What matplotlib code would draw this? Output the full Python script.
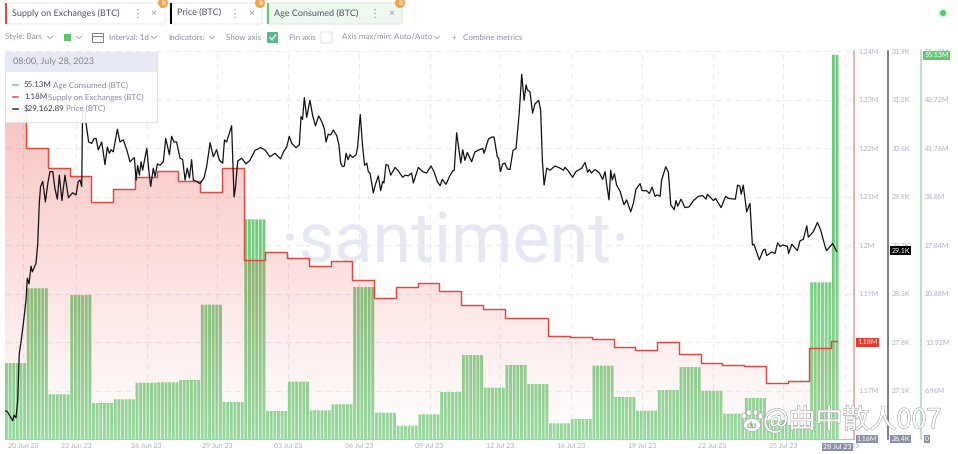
import numpy as np
import matplotlib
matplotlib.use("Agg")
import matplotlib.pyplot as plt
import matplotlib.patheffects as pe
import matplotlib.font_manager as fm
from matplotlib.patches import Rectangle, Circle, FancyBboxPatch, Ellipse
from matplotlib.colors import LinearSegmentedColormap

# ---------- data ----------
supply_m = [1.2278,1.2201,1.2159,1.2142,1.2089,1.2115,1.2140,1.2153,1.2131,1.2109,1.2159,1.1970,1.1986,
            1.1973,1.1957,1.1966,1.1928,1.1890,1.1913,1.1922,1.1905,1.1876,1.1868,1.1849,1.1849,1.1812,
            1.1810,1.1806,1.1789,1.1783,1.1801,1.1775,1.1756,1.1753,1.1751,1.1716,1.1719,1.1788,1.1802]
age_m = [10.91,21.63,6.42,20.67,5.17,5.70,8.08,8.14,8.47,19.27,5.31,31.53,4.02,8.22,4.12,4.98,21.81,3.77,
         1.91,3.54,6.74,12.05,7.36,10.62,7.89,2.25,2.87,10.52,6.03,4.06,7.03,10.33,6.93,3.63,5.88,2.73,2.01,22.49,55.13]
price_t = [.04,.14,.27,.39,.45,.54,.62,.69,.76,.88,1.00,1.06,1.14,1.23,1.29,1.46,1.54,1.61,1.67,1.77,1.89,2.00,2.10,2.23,2.33,2.44,2.53,2.65,2.79,2.95,3.14,3.30,3.40,3.48,3.56,3.60,3.67,3.76,
 3.88,4.02,4.13,4.22,4.32,4.48,4.63,4.74,4.83,4.91,5.01,5.20,5.32,5.47,5.63,5.78,5.98,6.06,6.13,6.21,6.29,6.36,6.55,6.65,6.73,6.85,6.93,7.04,7.16,7.31,7.42,7.59,7.69,7.80,7.92,8.08,8.20,8.31,8.41,8.51,8.61,8.69,8.84,8.99,9.18,9.30,9.46,9.61,9.76,9.89,10.04,10.12,10.22,10.30,10.45,10.56,10.62,10.73,10.91,11.11,11.29,11.52,11.78,11.98,12.21,
 12.44,12.70,12.83,12.98,13.10,13.21,13.41,13.56,13.64,13.71,13.79,13.90,14.05,14.17,14.30,14.45,14.59,14.71,14.79,14.89,15.00,15.12,15.28,15.38,15.46,15.55,15.63,15.71,15.80,15.89,16.01,16.17,16.24,16.36,16.47,16.56,16.66,16.73,16.81,16.96,17.05,17.19,17.30,17.39,17.45,17.54,17.64,17.76,17.96,18.11,18.31,18.42,18.57,18.72,18.80,19.03,19.23,19.41,19.61,19.75,19.90,20.03,20.13,20.30,20.46,20.61,20.68,20.79,20.98,21.07,21.17,21.28,21.48,21.63,21.83,21.99,22.05,22.25,22.40,22.51,22.66,22.72,22.80,22.91,23.01,23.12,23.24,23.38,23.52,23.67,23.78,23.89,23.98,24.04,24.16,24.28,24.39,24.56,24.65,24.73,24.81,24.93,25.08,25.31,25.54,
 25.69,25.77,25.92,26.12,26.27,26.54,26.69,26.81,26.89,26.98,27.15,27.35,27.50,27.61,27.68,27.79,27.87,27.94,28.04,28.14,28.30,28.48,28.60,28.79,28.91,29.03,29.22,29.31,29.52,29.65,29.77,29.91,30.01,30.14,30.21,30.40,30.52,30.63,30.79,30.87,30.95,31.10,31.28,31.47,31.67,31.90,32.10,32.25,32.31,32.59,32.69,32.94,33.15,33.28,33.60,33.70,33.81,33.87,33.96,34.12,34.27,34.38,34.45,34.70,34.88,34.96,35.04,35.27,35.42,35.54,35.65,35.77,35.99,36.05,36.19,36.45,36.57,36.72,36.88,36.95,37.18,37.37,37.52,37.72,37.79,38.07,38.25]
price_k = [26.80,26.79,26.72,26.66,26.74,26.70,26.95,27.61,27.75,28.04,28.37,28.68,28.60,28.85,28.77,28.89,29.17,29.74,29.98,30.05,29.76,30.02,30.19,30.19,29.95,29.80,30.14,29.78,30.14,29.82,29.89,29.86,30.05,30.07,29.98,31.06,31.10,30.87,
 30.61,30.59,30.66,30.66,30.50,30.61,30.29,30.54,30.45,30.50,30.47,30.79,30.61,30.64,30.50,30.33,30.39,30.07,30.28,30.14,30.33,30.21,30.52,30.19,29.98,30.24,30.12,30.30,30.28,30.33,30.66,30.43,30.69,30.61,30.61,30.38,30.36,30.07,30.24,30.10,30.36,30.07,30.05,30.02,30.10,30.26,30.60,30.40,30.50,30.35,30.31,30.64,30.61,30.69,30.84,29.83,29.95,30.34,30.38,30.30,30.35,30.49,30.53,30.50,30.40,
 30.45,30.37,30.47,30.54,30.69,30.59,30.53,30.57,30.97,30.93,31.24,30.96,31.20,30.99,30.84,30.98,30.90,30.80,30.61,30.72,30.71,30.78,30.70,30.57,30.31,30.26,30.27,30.45,30.36,30.43,30.39,30.43,30.54,31.00,30.54,30.28,30.31,30.19,30.17,29.89,30.00,30.13,29.92,30.05,30.03,30.29,30.28,30.14,30.25,30.20,30.11,30.14,30.13,30.17,30.03,30.25,30.19,30.17,30.27,30.19,30.05,29.99,30.08,30.01,30.12,30.20,30.21,30.74,30.31,30.50,30.35,30.46,30.33,30.47,30.50,30.52,30.45,30.65,30.68,30.68,30.40,30.38,30.19,30.30,30.31,30.23,30.22,30.49,30.52,31.04,31.57,31.20,31.42,31.35,31.32,31.02,31.15,31.20,31.06,30.35,30.00,30.24,30.21,30.27,30.24,
 30.21,30.25,30.20,30.11,30.19,30.24,30.32,30.18,30.22,30.17,30.22,30.17,30.08,30.19,30.02,29.79,30.21,30.07,30.16,30.00,29.91,29.72,29.79,29.62,29.74,29.94,30.02,29.92,29.92,29.88,29.97,29.84,29.86,29.84,30.07,30.26,30.18,29.72,29.65,29.78,29.70,29.80,29.68,29.69,29.78,29.84,29.85,29.80,29.87,29.78,29.81,29.68,29.84,29.81,29.80,30.00,29.98,29.87,30.00,29.62,29.74,29.15,29.16,28.94,29.08,29.09,29.00,29.05,29.03,29.18,29.13,29.15,29.13,29.03,29.16,29.07,29.21,29.23,29.42,29.26,29.34,29.47,29.36,29.13,29.07,29.17,29.06]
date_labels = ["20 Jun 23","23 Jun 23","26 Jun 23","29 Jun 23","03 Jul 23","06 Jul 23","09 Jul 23","12 Jul 23",
               "16 Jul 23","19 Jul 23","22 Jul 23","25 Jul 23","28 Jul 23"]
# the lowest ticks and the 1.18M tick sit under value tags, which repeat their text
supply_ticks = ["","1.17M","","1.19M","1.2M","1.21M","1.22M","1.23M","1.24M"]
price_ticks = ["","27.1K","27.8K","28.5K","29.2K","29.9K","30.6K","31.2K","31.9K"]
age_ticks = ["","6.96M","13.92M","20.88M","27.84M","34.8M","41.76M","48.72M","55.68M"]

FONT = "Lato"
plt.rcParams["font.family"] = FONT
plt.rcParams["text.hinting"] = "none"
plt.rcParams["text.hinting_factor"] = 1
W, H = 958, 454
GRAY = "#a9b1c7"
DARK = "#5a6078"
RED = "#e2483d"
GREEN = "#70cc7a"
TICK = 7.2

# a .ttc exposes only one of its family names to matplotlib, so look the CJK face up by name or by file
cjk_names = sorted({f.name for f in fm.fontManager.ttflist if "CJK" in f.name})
if cjk_names:
    cjk = fm.FontProperties(family=cjk_names)
else:
    files = [p for p in fm.findSystemFonts() if "cjk" in p.lower()]
    cjk = fm.FontProperties(fname=files[0]) if files else fm.FontProperties()

fig = plt.figure(figsize=(W/100, H/100), dpi=100, facecolor="white")
rect = [5/W, (H-439)/H, 849/W, 388/H]
x0, x1 = 0.035, 39.05
x_end = 38.27

def pt(px):
    return px*0.72

# bottom: age axis (bars, grid, watermark)
ax_age = fig.add_axes(rect, zorder=1)
ax_age.set_xlim(x0, x1)
ax_age.set_ylim(0, 55.68)
slots = np.arange(x0, x_end, 1/6)
heights = np.array(age_m)[np.floor(slots).astype(int)]
bars = ax_age.bar(slots, heights, width=0.8/6, align="edge", color=GREEN, linewidth=0, zorder=3)
for b in bars:
    b.set_snap(False)
fade = LinearSegmentedColormap.from_list("w", [(1, 1, 1, 0.0), (1, 1, 1, 0.28)])
ax_age.imshow(np.linspace(0, 1, 128)[:, None], cmap=fade, extent=[x0, x_end, 0, 30], aspect="auto", zorder=4, vmin=0, vmax=1)
ax_age.set_xlim(x0, x1)
ax_age.set_ylim(0, 55.68)
ax_age.set_yticks(np.linspace(0, 55.68, 9), age_ticks)
xt = [0.86] + [3.30+3.25*i for i in range(11)] + [38.64]
ax_age.set_xticks(xt, date_labels)
ax_age.grid(True, color="#e9ebf3", linestyle=(0, (5, 4)), linewidth=0.8, zorder=1)
ax_age.set_axisbelow(True)
ax_age.yaxis.tick_right()
ax_age.yaxis.set_label_position("right")
ax_age.tick_params(axis="y", length=0, pad=pt(4), labelsize=pt(TICK), labelcolor=GRAY, right=False)
ax_age.tick_params(axis="x", length=0, pad=pt(4), labelsize=pt(6.6), labelcolor=GRAY)
for s in ("top", "left"):
    ax_age.spines[s].set_visible(False)
ax_age.spines["right"].set_position(("outward", pt(67)))
ax_age.spines["right"].set_color("#a9dcb0")
ax_age.spines["right"].set_linewidth(1.1)
ax_age.spines["bottom"].set_color("#b9bfd0")
ax_age.text(456/W, (H-262)/H, "\u00b7santiment\u00b7", transform=fig.transFigure, ha="center", va="baseline",
            fontsize=pt(70), color="#e6e9f4", zorder=2, family="Roboto")

# supply axis: gradient area and step line
ax_sup = fig.add_axes(rect, zorder=2, sharex=ax_age)
ax_sup.patch.set_alpha(0)
ax_sup.set_ylim(1.16, 1.24)
tx = np.r_[x0, np.arange(1, 39), x_end]
ty = np.r_[supply_m, supply_m[-1]]
poly = ax_sup.fill_between(tx, ty, 1.16, step="post", facecolor="none", edgecolor="none")
cm = LinearSegmentedColormap.from_list("r", [(0.92, 0.24, 0.2, 0.0), (0.92, 0.24, 0.2, 0.36)])
im = ax_sup.imshow(np.linspace(1, 0, 256)[:, None], cmap=cm, extent=[x0, x1, 1.16, 1.24], aspect="auto", zorder=2, vmin=0, vmax=1)
im.set_clip_path(poly.get_paths()[0], transform=ax_sup.transData)
ax_sup.plot(tx, ty, drawstyle="steps-post", color=RED, lw=1.05, zorder=3)
ax_sup.set_xlim(x0, x1)
ax_sup.set_ylim(1.16, 1.24)
ax_sup.set_yticks(np.linspace(1.16, 1.24, 9), supply_ticks)
ax_sup.yaxis.tick_right()
ax_sup.tick_params(axis="y", length=0, pad=pt(4), labelsize=pt(TICK), labelcolor=GRAY, right=False)
ax_sup.tick_params(axis="x", bottom=False, labelbottom=False)
for s in ("top", "left", "bottom"):
    ax_sup.spines[s].set_visible(False)
ax_sup.spines["right"].set_color("#e39b94")
ax_sup.spines["right"].set_linewidth(1.1)

# price axis
ax_pr = fig.add_axes(rect, zorder=3, sharex=ax_age)
ax_pr.patch.set_alpha(0)
ax_pr.set_ylim(26.4, 31.9)
ax_pr.plot(price_t, price_k, color="#111111", lw=0.9, zorder=3)
ax_pr.set_yticks(np.linspace(26.4, 31.9, 9), price_ticks)
ax_pr.yaxis.tick_right()
ax_pr.tick_params(axis="y", length=0, pad=pt(4), labelsize=pt(TICK), labelcolor=GRAY, right=False)
ax_pr.tick_params(axis="x", bottom=False, labelbottom=False)
for s in ("top", "left", "bottom"):
    ax_pr.spines[s].set_visible(False)
ax_pr.spines["right"].set_position(("outward", pt(34)))
ax_pr.spines["right"].set_color("#5c5c5c")
ax_pr.spines["right"].set_linewidth(1.1)

# overlay in pixel space for the interface furniture
ui = fig.add_axes([0, 0, 1, 1], zorder=5)
ui.set_xlim(0, W); ui.set_ylim(H, 0); ui.axis("off"); ui.patch.set_alpha(0)

def T(x, y, s, size=7.9, color=DARK, ha="left", **kw):
    return ui.text(x, y, s, fontsize=pt(size), color=color, ha=ha, va="center", **kw)

def tag(x0_, x1_, y, s, bg, fc="white", size=7.2, h=9):
    ui.add_patch(Rectangle((x0_, y-h/2), x1_-x0_, h, fc=bg, ec="none", zorder=6))
    T((x0_+x1_)/2, y, s, size=size, color=fc, ha="center", zorder=7)

def chip(x0_, x1_, label, bar, dots, xm, bg="white", ec="#e8eaf1"):
    ui.add_patch(FancyBboxPatch((x0_, 3), x1_-x0_, 21, boxstyle="round,pad=0,rounding_size=2", fc=bg, ec=ec, lw=0.8))
    ui.add_patch(Rectangle((x0_, 3), 2.3, 21, fc=bar, ec="none"))
    T(x0_+7, 13.5, label, size=9.5, color="#4b5068")
    for dy in (-4, 0, 4):
        ui.add_patch(Circle((dots, 13.5+dy), 0.75, fc="#9aa1b5", ec="none"))
    T(xm, 13.5, "\u00d7", size=10, color="#8d94a8", ha="center")
    ui.add_patch(Circle((x1_-2, 3), 5, fc="#f3a345", ec="none", zorder=4, clip_on=False))
    T(x1_-2, 3, "B", size=6.5, color="white", ha="center", zorder=5, fontweight="bold", clip_on=False)

chip(5, 165, "Supply on Exchanges (BTC)", RED, 138, 153)
chip(170, 262, "Price (BTC)", "black", 235, 251)
chip(267, 402, "Age Consumed (BTC)", "#67c774", 375, 391, bg="#eff9f0", ec="#d4efd8")

def chev(x, y=37.5):
    ui.plot([x-2.5, x, x+2.5], [y-1.3, y+1.3, y-1.3], color="#a4abbe", lw=0.7)

TY = 37.5
T(5, TY, "Style: Bars", color="#8b91a6"); chev(50)
ui.add_patch(Rectangle((64, 34), 7, 7, fc="#5cc66a", ec="none")); chev(79)
ui.add_patch(Rectangle((92, 33), 11, 9, fc="white", ec="#777e93", lw=0.7))
ui.plot([92, 103], [35.5, 35.5], color="#777e93", lw=0.7)
T(109, TY, "Interval: 1d", color="#8b91a6"); chev(154)
T(168, TY, "Indicators:", color="#8b91a6"); chev(212)
T(226, TY, "Show axis", color="#8b91a6")
ui.add_patch(FancyBboxPatch((267, 32), 11, 11, boxstyle="round,pad=0,rounding_size=1", fc="#58b98a", ec="none"))
ui.plot([270, 272, 275.5], [37.5, 40, 35], color="white", lw=0.9)
T(289, TY, "Pin axis", color="#8b91a6")
ui.add_patch(FancyBboxPatch((321, 32), 11, 11, boxstyle="round,pad=0,rounding_size=1", fc="white", ec="#e2e5ee", lw=0.8))
T(342, TY, "Axis max/min: Auto/Auto", color="#8b91a6"); chev(437)
T(452, TY, "+", color="#8b91a6")
T(463, TY, "Combine metrics", color="#8b91a6")
ui.add_patch(Circle((943, 13), 5, fc="#dff5e4", ec="none"))
ui.add_patch(Circle((943, 13), 3, fc="#58c56b", ec="none"))

# tooltip
ui.add_patch(Rectangle((5, 52), 152, 70, fc="white", ec="#dfe2ec", lw=0.8, alpha=0.93, zorder=3))
ui.add_patch(Rectangle((5, 52), 152, 20, fc="#e7eaf4", ec="none", zorder=3.1))
T(13, 62, "08:00, July 28, 2023", size=9.0, color="#7d849b", zorder=4)
rows = [(85, "#6fcf78", "55.13M", "Age Consumed (BTC)", 53),
        (97, RED, "1.18M", "Supply on Exchanges (BTC)", 48),
        (108.5, "#333333", "$29,162.89", "Price (BTC)", 66)]
for y, c, v, name, nx in rows:
    ui.plot([13, 18], [y, y], color=c, lw=1.1, zorder=4)
    T(24, y, v, size=7.9, color="#3c4055", zorder=4)
    T(nx, y, name, size=8.5, color="#8389a0", zorder=4)

# axis value tags
tag(856, 879, 342, "1.18M", "#e8392e")
tag(890, 911, 250.5, "29.1K", "black")
tag(923, 950, 55, "55.13M", "#62c96f")
tag(856, 878, 439, "1.16M", "#8b91a9", h=8)
tag(890, 911, 439, "26.4K", "#8b91a9", h=8)
tag(924, 930, 439, "0", "#8b91a9", h=8)
tag(822, 853, 446.5, "28 Jul 23", "#8b91a9", size=6.6, h=8)

# baidu-style corner mark
stroke = [pe.withStroke(linewidth=0.7, foreground="#9a9a9a")]
ui.text(763, 420.5, "@\u66f2\u4e2d\u6563\u4eba007", fontsize=pt(27), color="white", ha="left", va="center",
        fontproperties=cjk.copy(), path_effects=stroke, zorder=8)
for cx, cy, rx, ry in [(744, 416, 2.2, 3), (749, 412.5, 2.2, 3), (755.5, 412.5, 2.2, 3), (760.5, 416, 2.2, 3), (752, 425, 8.5, 6.5)]:
    ui.add_patch(Ellipse((cx, cy), 2*rx, 2*ry, fc="white", ec="#a0a0a0", lw=0.4, zorder=8))
ui.text(752, 425.5, "du", fontsize=pt(9.5), color="#76b27c", ha="center", va="center", fontweight="bold", zorder=9)

fig.savefig("out.png", dpi=100)
